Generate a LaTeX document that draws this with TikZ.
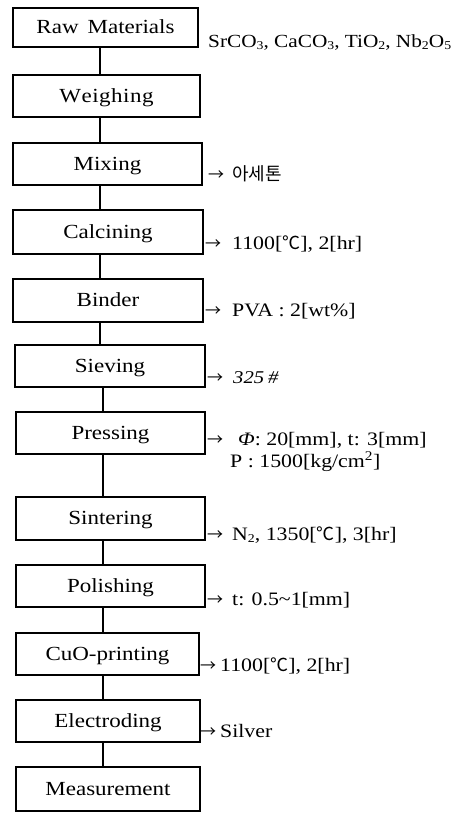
\documentclass[tikz,border=0pt]{standalone}
\usepackage{fontspec}
\setmainfont{Liberation Serif}[FakeStretch=1.15]
\newfontfamily\cjk{Noto Sans CJK KR}
\newcommand{\dC}{{\cjk\fontsize{18}{18}\selectfont ℃}}
\newcommand{\arw}{{\cjk\fontsize{16}{16}\selectfont →}}
\newcommand{\lowsub}[1]{\raisebox{-2pt}{\fontsize{12}{12}\selectfont #1}}
\begin{document}
\begin{tikzpicture}[x=1pt,y=-1pt,
  stepbox/.style={draw, line width=1.2pt, minimum height=42pt, inner sep=0pt,
    font=\fontsize{20}{20}\selectfont, text height=13pt, text depth=1pt},
  lab/.style={anchor=base west, inner sep=0pt, font=\fontsize{19}{20}\selectfont},
  conn/.style={line width=1.2pt}]
\useasboundingbox (0,0) rectangle (458,814);
\coordinate (ca) at (100,0);
\coordinate (cb) at (103,0);
% boxes
\node[stepbox, minimum width=185pt, minimum height=39pt] (n1) at (105.5,27.5) {Raw\hspace{0.45em}Materials};
\node[stepbox, minimum width=187pt] (n2) at (106.5,96) {W\hspace{0.5pt}e\hspace{0.5pt}i\hspace{0.5pt}g\hspace{0.5pt}h\hspace{0.5pt}i\hspace{0.5pt}n\hspace{0.5pt}g};
\node[stepbox, minimum width=189pt] (n3) at (107.5,164) {Mixing};
\node[stepbox, minimum width=190pt, minimum height=44pt] (n4) at (108,232) {Calcining};
\node[stepbox, minimum width=190pt, minimum height=43pt] (n5) at (108,300.5) {Binder};
\node[stepbox, minimum width=190pt] (n6) at (110,366) {Sieving};
\node[stepbox, minimum width=189pt] (n7) at (110.5,433) {Pressing};
\node[stepbox, minimum width=189pt, minimum height=43pt] (n8) at (110.5,518.5) {Sintering};
\node[stepbox, minimum width=189pt] (n9) at (110.5,586) {Polishing};
\node[stepbox, minimum width=183pt] (n10) at (107.5,654) {CuO-printing};
\node[stepbox, minimum width=184pt] (n11) at (108,721) {Electroding};
\node[stepbox, minimum width=184pt, minimum height=44pt] (n12) at (108,789) {Measurement};
% connectors
\draw[conn] (n1.south -| ca) -- (n2.north -| ca);
\draw[conn] (n2.south -| ca) -- (n3.north -| ca);
\draw[conn] (n3.south -| ca) -- (n4.north -| ca);
\draw[conn] (n4.south -| ca) -- (n5.north -| ca);
\draw[conn] (n5.south -| ca) -- (n6.north -| ca);
\draw[conn] (n6.south -| cb) -- (n7.north -| cb);
\draw[conn] (n7.south -| cb) -- (n8.north -| cb);
\draw[conn] (n8.south -| cb) -- (n9.north -| cb);
\draw[conn] (n9.south -| cb) -- (n10.north -| cb);
\draw[conn] (n10.south -| cb) -- (n11.north -| cb);
\draw[conn] (n11.south -| cb) -- (n12.north -| cb);
% labels
\node[lab, font=\fontsize{18.5}{20}\selectfont] (l1) at (208,47) {SrCO\lowsub{3}, CaCO\lowsub{3}, TiO\lowsub{2}, Nb\lowsub{2}O\lowsub{5}};
\node[lab] (l3) at (208,180) {\makebox[24pt][l]{\arw}{\cjk\fontsize{18}{18}\selectfont 아세톤}};
\node[lab] (l4) at (205,249) {\makebox[27pt][l]{\arw}1100[\dC], 2[hr]};
\node[lab] (l5) at (205,316) {\makebox[27pt][l]{\arw}PVA : 2[wt\%]};
\node[lab] (l6) at (207,383) {\makebox[26pt][l]{\arw}{\fontsize{18}{18}\selectfont\itshape 325\hspace{4pt}\#}};
\node[lab] (l7) at (207,445) {\makebox[31pt][l]{\arw}\textit{Φ}: 20[mm], t: 3[mm]};
\node[lab] (l7b) at (230,467) {P : 1500[kg/cm\textsuperscript{2}]};
\node[lab] (l8) at (207,540) {\makebox[25pt][l]{\arw}N\lowsub{2}, 1350[\dC], 3[hr]};
\node[lab] (l9) at (207,605) {\makebox[25pt][l]{\arw}t: 0.5\textasciitilde1[mm]};
\node[lab] (l10) at (200,671) {\makebox[20pt][l]{\arw}1100[\dC], 2[hr]};
\node[lab] (l11) at (200,737) {\makebox[20pt][l]{\arw}Silver};
\end{tikzpicture}
\end{document}
